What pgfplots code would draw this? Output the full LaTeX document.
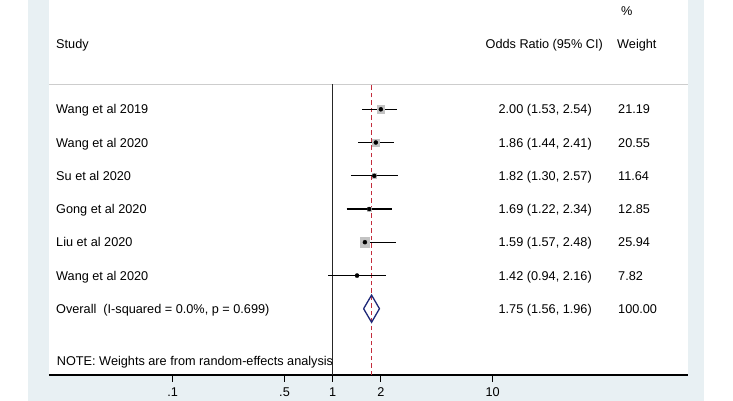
\documentclass[border=0pt]{standalone}
\usepackage{pgfplots}
\pgfplotsset{compat=1.18}
\usepackage{fontspec}
\setmainfont{Liberation Sans}
\definecolor{bgblue}{RGB}{232,240,243}
\definecolor{sepgray}{RGB}{205,205,205}
\definecolor{boxgray}{RGB}{195,195,195}
\definecolor{redline}{RGB}{195,45,60}
\definecolor{navyd}{RGB}{30,40,120}
\newcommand{\tf}{\fontsize{12.7pt}{15pt}\selectfont}
\begin{document}
\tf
\begin{tikzpicture}[x=1pt,y=1pt]
\path[use as bounding box] (0,0) rectangle (733,-401);
\fill[white] (0,0) rectangle (733,-401);
\fill[bgblue] (28,0) rectangle (704,-401);
\fill[white] (49,0) rectangle (688,-375);
\begin{axis}[
  at={(49pt,-375pt)}, anchor=south west,
  width=639pt, height=375pt, scale only axis,
  xmode=log, xmin=0.01686, xmax=166.2, ymin=0, ymax=375,
  hide axis,
  clip=false,
]
% separator line
\addplot[sepgray, line width=0.8pt] coordinates {(0.01686,291) (166.2,291)};
% bottom axis line
\addplot[black, line width=1.2pt] coordinates {(0.01686,0) (166.2,0)};
% tick marks
\addplot[black, line width=1.2pt] coordinates {(0.1,0) (0.1,-6.5)};
\addplot[black, line width=1.2pt] coordinates {(0.5,0) (0.5,-6.5)};
\addplot[black, line width=1.2pt] coordinates {(1,0) (1,-6.5)};
\addplot[black, line width=1.2pt] coordinates {(2,0) (2,-6.5)};
\addplot[black, line width=1.2pt] coordinates {(10,0) (10,-6.5)};
% tick labels
\node[anchor=base, inner sep=0] at (axis cs:0.1,-21.2) {.1};
\node[anchor=base, inner sep=0] at (axis cs:0.5,-21.2) {.5};
\node[anchor=base, inner sep=0] at (axis cs:1,-21.2) {1};
\node[anchor=base, inner sep=0] at (axis cs:2,-21.2) {2};
\node[anchor=base, inner sep=0] at (axis cs:10,-21.2) {10};
% null line
\addplot[black!85, line width=0.8pt] coordinates {(1,0) (1,291)};
% overall line
\addplot[redline, line width=1.3pt, dash pattern=on 4.5pt off 3pt] coordinates {(1.75,0) (1.75,291)};
% weight boxes (side proportional to weight)
\addplot[only marks, mark=square*, mark size=3.8pt, color=boxgray] coordinates {(2.00,265.7)};
\addplot[only marks, mark=square*, mark size=3.7pt, color=boxgray] coordinates {(1.86,232.5)};
\addplot[only marks, mark=square*, mark size=2.1pt, color=boxgray] coordinates {(1.82,199.2)};
\addplot[only marks, mark=square*, mark size=2.3pt, color=boxgray] coordinates {(1.69,166.0)};
\addplot[only marks, mark=square*, mark size=4.65pt, color=boxgray] coordinates {(1.59,132.8)};
\addplot[only marks, mark=square*, mark size=1.4pt, color=boxgray] coordinates {(1.42,99.5)};
% confidence intervals
\addplot[black, line width=1.3pt] coordinates {(1.53,265.7) (2.54,265.7)};
\addplot[black, line width=1.3pt] coordinates {(1.44,232.5) (2.41,232.5)};
\addplot[black, line width=1.3pt] coordinates {(1.30,199.2) (2.57,199.2)};
\addplot[black, line width=1.3pt] coordinates {(1.22,166.0) (2.34,166.0)};
\addplot[black, line width=1.3pt] coordinates {(1.57,132.8) (2.48,132.8)};
\addplot[black, line width=1.3pt] coordinates {(0.94,99.5) (2.16,99.5)};
% point estimates
\addplot[only marks, mark=*, mark size=2pt, black] coordinates {
(2.00,265.7) (1.86,232.5) (1.82,199.2) (1.69,166.0) (1.59,132.8) (1.42,99.5)};
% overall diamond
\addplot[navyd, line width=1.3pt] coordinates {(1.56,66.3) (1.75,79.9) (1.96,66.3) (1.75,52.7) (1.56,66.3)};
\end{axis}
% header
\node[anchor=base west, inner sep=0] at (621,-16) {\%};
\node[anchor=base west, inner sep=0] at (56,-48.3) {Study};
\node[anchor=base east, inner sep=0] at (603,-48.3) {Odds Ratio (95\% CI)};
\node[anchor=base west, inner sep=0] at (617,-48.3) {Weight};
% rows
\foreach \n/\est/\w [count=\i from 0] in {Wang et al 2019/{2.00 (1.53, 2.54)}/21.19,
  Wang et al 2020/{1.86 (1.44, 2.41)}/20.55,
  Su et al 2020/{1.82 (1.30, 2.57)}/11.64,
  Gong et al 2020/{1.69 (1.22, 2.34)}/12.85,
  Liu et al 2020/{1.59 (1.57, 2.48)}/25.94,
  Wang et al 2020/{1.42 (0.94, 2.16)}/7.82,
  {Overall\ \ (I-squared = 0.0\%, p = 0.699)}/{1.75 (1.56, 1.96)}/100.00} {
  \pgfmathsetmacro{\yy}{-(113.9+33.23*\i)}
  \node[anchor=base west, inner sep=0] at (56,\yy) {\n};
  \node[anchor=base east, inner sep=0] at (592,\yy) {\est};
  \node[anchor=base west, inner sep=0] at (618,\yy) {\w};
}
\node[anchor=base west, inner sep=0] at (56.7,-365) {NOTE: Weights are from random-effects analysis};
\end{tikzpicture}
\end{document}
